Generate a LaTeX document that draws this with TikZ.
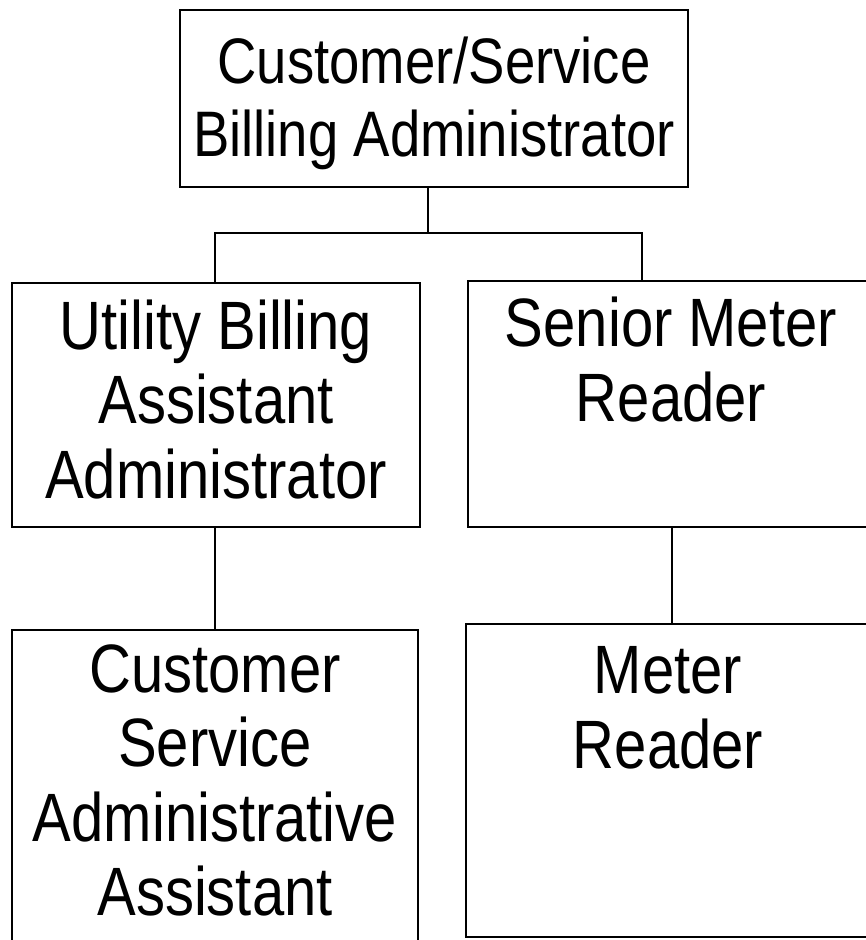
\documentclass[tikz,border=0pt]{standalone}
\usepackage{fontspec}
\setmainfont{Liberation Sans}
\usepackage{graphicx}
\newcommand{\lines}[3]{\scalebox{1}[1.18]{\fontsize{#1}{#2}\selectfont\begin{tabular}{@{}c@{}}#3\end{tabular}}}
\begin{document}
\begin{tikzpicture}[x=1pt,y=-1pt,
  boxst/.style={draw=black, line width=2.4pt, rectangle, inner sep=0pt},
  lbl/.style={inner sep=0pt, text=black},
  conn/.style={draw=black, line width=2pt}]
\clip (0,0) rectangle (866,940);
\fill[white] (0,0) rectangle (866,940);
% boxes
\node[boxst, minimum width=508pt, minimum height=177pt] (top) at (434,98.5) {};
\node[boxst, minimum width=408pt, minimum height=244pt] (ml) at (216,405) {};
\node[boxst, minimum width=432pt, minimum height=246pt] (mr) at (684,404) {};
\node[boxst, minimum width=406pt, minimum height=340pt] (bl) at (215,800) {};
\node[boxst, minimum width=434pt, minimum height=313pt] (br) at (683,780.5) {};
% labels
\node[lbl] (ttop) at (434,105) {\lines{54.5}{62}{Customer/Service\\Billing Administrator}};
\node[lbl] (tml) at (216,409) {\lines{58}{63.5}{Utility Billing\\Assistant\\Administrator}};
\node[lbl] (tmr) at (671,369) {\lines{58}{63}{Senior Meter\\Reader}};
\node[lbl] (tbl) at (215,789) {\lines{58}{63}{Customer\\Service\\Administrative\\Assistant}};
\node[lbl] (tbr) at (668,716) {\lines{58}{63}{Meter\\Reader}};
% connectors
\coordinate (bus) at (428,233);
\coordinate (cl) at (215,0);
\coordinate (cr) at (642,0);
\coordinate (cd) at (672,0);
\draw[conn] (top.south -| bus) -- (bus);
\draw[conn] (ml.north -| cl) |- (bus -| cr) -- (mr.north -| cr);
\draw[conn] (ml.south -| cl) -- (bl.north -| cl);
\draw[conn] (mr.south -| cd) -- (br.north -| cd);
\end{tikzpicture}
\end{document}
